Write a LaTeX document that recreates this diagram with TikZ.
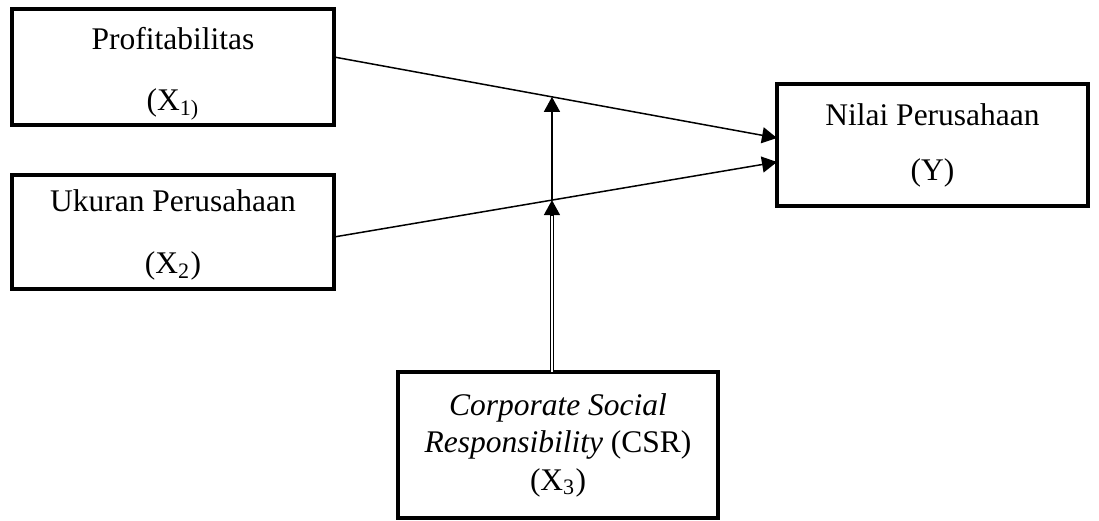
\documentclass[tikz,border=0pt]{standalone}
\usepackage{fontspec}
\setmainfont{Liberation Serif}
\usetikzlibrary{arrows.meta,calc}
\tikzstyle{arrow} = [-{Triangle[length=6pt,width=6.4pt]}, line width=0.6pt]
\tikzstyle{box} = [draw, line width=1.3pt, align=center, inner sep=0pt, outer sep=0pt, font=\fontsize{12.6}{15}\selectfont]

\begin{document}
\begin{tikzpicture}[x=0.4pt, y=-0.4pt]
		\useasboundingbox (0,0) rectangle (1099,520);

		\node (x1) [box, minimum width=128.8pt, minimum height=46.4pt] at (173,67) {\rule{0pt}{14.2pt}Profitabilitas\\[9.4pt](X\textsubscript{1)}};
		\node (x2) [box, minimum width=128.8pt, minimum height=45.6pt] at (173,232) {\rule{0pt}{11pt}Ukuran Perusahaan\\[10pt](X\textsubscript{2})};
		\node (y) [box, minimum width=124.4pt, minimum height=48.8pt] at (932.5,145) {Nilai Perusahaan\\[7pt](Y)};
		\node (csr) [box, minimum width=128pt, minimum height=58.4pt] at (558,445) {\textit{Corporate Social}\\\textit{Responsibility} (CSR)\\(X\textsubscript{3})};

		\coordinate (x1out) at ($(x1.east)+(0,4pt)$);
		\coordinate (y1in) at ($(y.west)+(0,2.8pt)$);
		\coordinate (x2out) at ($(x2.east)+(0,-2pt)$);
		\coordinate (y2in) at ($(y.west)+(0,-6.8pt)$);
		\coordinate (mod1) at ($(x1out)!0.492!(y1in)$);
		\coordinate (mod2) at ($(x2out)!0.492!(y2in)$);
		\coordinate (csrout) at (csr.north -| mod2);
		\coordinate (mod2base) at ($(mod2)+(0,-6pt)$);

		\draw [arrow] (x1out) -- (y1in);
		\draw [arrow] (x2out) -- (y2in);
		\draw [arrow] (mod2) -- (mod1);
		\draw [double, double distance=0.6pt, line width=0.5pt] (csrout) -- (mod2base);
		\draw [arrow] (mod2base) -- (mod2);
	\end{tikzpicture}
\end{document}
